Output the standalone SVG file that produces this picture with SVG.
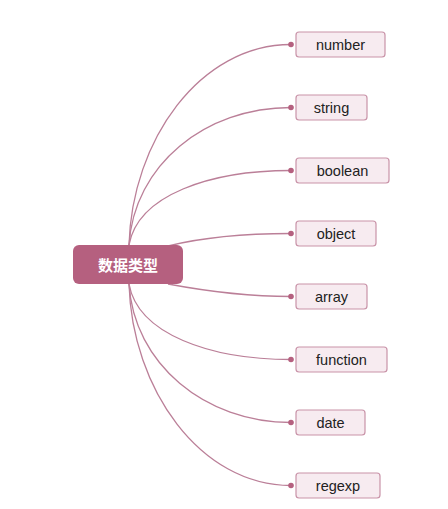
<svg xmlns="http://www.w3.org/2000/svg" width="448" height="509" viewBox="0 0 448 509">
<style>
.bg{fill:#ffffff}
.root rect{fill:#b5607f}
.root text{fill:#ffffff;font-family:"Noto Sans CJK SC","Noto Sans",sans-serif;font-size:15px;font-weight:bold;text-anchor:middle;dominant-baseline:central}
.leaf rect{fill:#f7ebf0;stroke:#c993a8;stroke-width:1.2}
.leaf text{fill:#222222;font-family:"Liberation Sans",Arial,sans-serif;font-size:14.5px;text-anchor:middle;dominant-baseline:central}
.conn path{fill:none;stroke:#bb7f98;stroke-width:1.3}
.conn circle{fill:#b5607f}
</style>
<rect class="bg" width="448" height="509"/>
<g id="connectors" class="conn">
<path d="M129,245 C132,140 200,44.5 291,44.5"/>
<path d="M129,245 C134,165 205,107.5 291,107.5"/>
<path d="M129,245 C138,195 210,170.5 291,170.5"/>
<path d="M168,246 C200,238 240,233.5 291,233.5"/>
<path d="M168,284 C200,290 240,296.5 291,296.5"/>
<path d="M129,284 C138,334 210,359.5 291,359.5"/>
<path d="M129,284 C134,364 205,422.5 291,422.5"/>
<path d="M129,284 C132,389 200,485.5 291,485.5"/>
<circle cx="291" cy="44.5" r="2.8"/>
<circle cx="291" cy="107.5" r="2.8"/>
<circle cx="291" cy="170.5" r="2.8"/>
<circle cx="291" cy="233.5" r="2.8"/>
<circle cx="291" cy="296.5" r="2.8"/>
<circle cx="291" cy="359.5" r="2.8"/>
<circle cx="291" cy="422.5" r="2.8"/>
<circle cx="291" cy="485.5" r="2.8"/>
</g>
<g id="root" class="root">
<rect x="73" y="245" width="110" height="39" rx="6"/>
<text x="128" y="264.5">数据类型</text>
</g>
<g id="n-number" class="leaf"><rect x="296" y="32" width="89" height="25" rx="3"/><text x="340.5" y="44.5">number</text></g>
<g id="n-string" class="leaf"><rect x="296" y="95" width="71" height="25" rx="3"/><text x="331.5" y="107.5">string</text></g>
<g id="n-boolean" class="leaf"><rect x="296" y="158" width="93" height="25" rx="3"/><text x="342.5" y="170.5">boolean</text></g>
<g id="n-object" class="leaf"><rect x="296" y="221" width="80" height="25" rx="3"/><text x="336" y="233.5">object</text></g>
<g id="n-array" class="leaf"><rect x="296" y="284" width="71" height="25" rx="3"/><text x="331.5" y="296.5">array</text></g>
<g id="n-function" class="leaf"><rect x="296" y="347" width="91" height="25" rx="3"/><text x="341.5" y="359.5">function</text></g>
<g id="n-date" class="leaf"><rect x="296" y="410" width="69" height="25" rx="3"/><text x="330.5" y="422.5">date</text></g>
<g id="n-regexp" class="leaf"><rect x="296" y="473" width="84" height="25" rx="3"/><text x="338" y="485.5">regexp</text></g>
</svg>
